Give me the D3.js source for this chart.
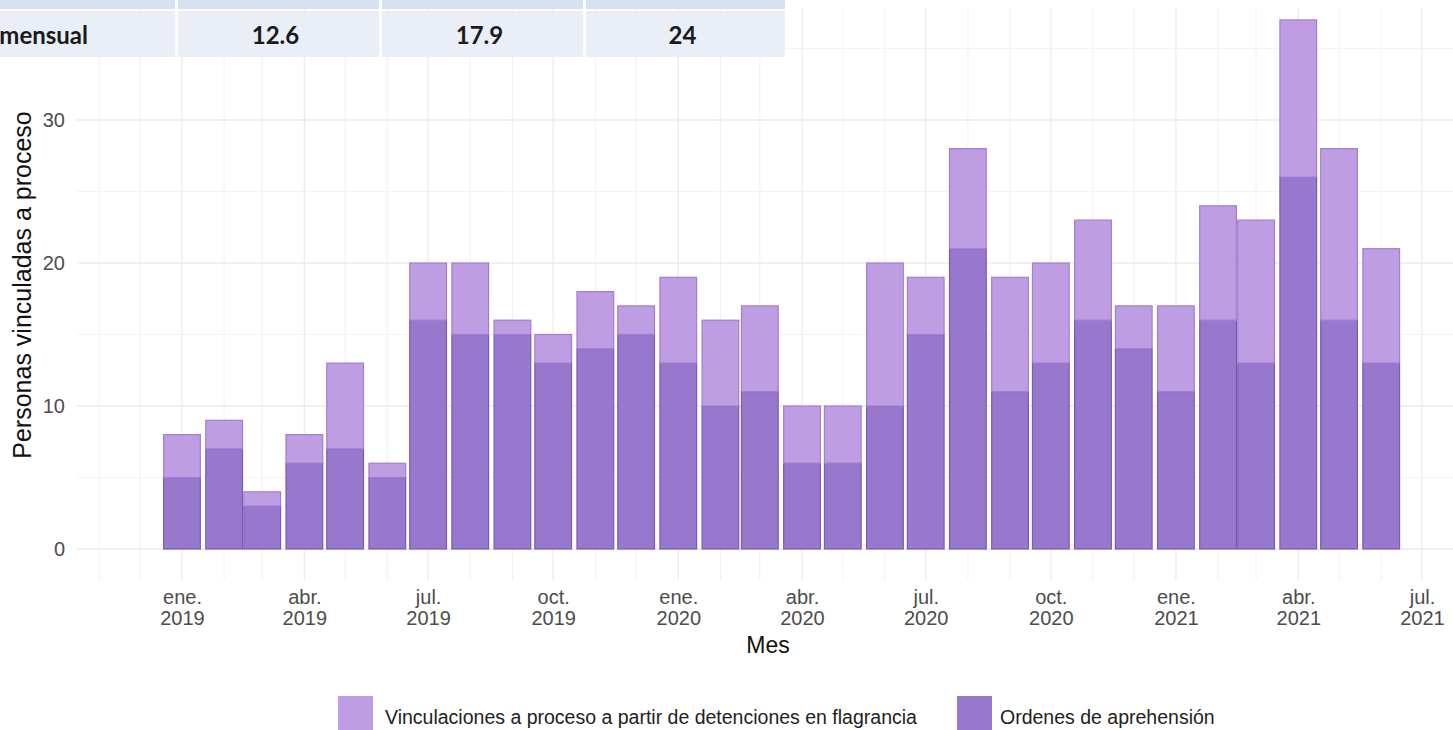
<!DOCTYPE html>
<html>
<head>
<meta charset="utf-8">
<script src="https://cdn.jsdelivr.net/npm/d3@7"></script>
<style>
  html, body { margin: 0; padding: 0; background: #ffffff; }
  svg { display: block; }
</style>
</head>
<body>
<svg id="chart" width="1453" height="730"></svg>
<script>
// ---------- DATA ----------
const months = [
  "2019-01","2019-02","2019-03","2019-04","2019-05","2019-06","2019-07","2019-08","2019-09","2019-10","2019-11","2019-12",
  "2020-01","2020-02","2020-03","2020-04","2020-05","2020-06","2020-07","2020-08","2020-09","2020-10","2020-11","2020-12",
  "2021-01","2021-02","2021-03","2021-04","2021-05","2021-06"
];
const ordenes =    [5,7,3,6,7,5,16,15,15,13,14,15, 13,10,11,6,6,10,15,21,11,13,16,14, 11,16,13,26,16,13];
const flagrancia = [3,2,1,2,6,1,4,5,1,2,4,2, 6,6,6,4,4,10,4,7,8,7,7,3, 6,8,10,11,12,8];
const seriesNames = ["Vinculaciones a proceso a partir de detenciones en flagrancia", "Ordenes de aprehensión"];
const xTickDates = ["2019-01","2019-04","2019-07","2019-10","2020-01","2020-04","2020-07","2020-10","2021-01","2021-04","2021-07"];
const monthAbbr = ["ene.","feb.","mar.","abr.","may.","jun.","jul.","ago.","sep.","oct.","nov.","dic."];
const yTicks = [0,10,20,30];
const yMinor = [5,15,25,35];
const tableRowLabel = "Promedio mensual";
const tableValues = ["12.6","17.9","24"];

// ---------- SETUP ----------
const svg = d3.select("#chart");
const panel = {left: 77, right: 1453, top: 8, bottom: 580};
const parse = d3.timeParse("%Y-%m");
const FONT = "Liberation Sans, Arial, sans-serif";

const x = d3.scaleTime()
  .domain([parse("2019-01"), parse("2021-07")])
  .range([182, 1422]);
const y = d3.scaleLinear().domain([0, 30]).range([549, 120]);

const data = months.map((m, i) => ({date: parse(m), ordenes: ordenes[i], flagrancia: flagrancia[i]}));
const stacked = d3.stack().keys(["ordenes", "flagrancia"])(data);

// ---------- GRID ----------
const grid = svg.append("g");
const allMonths = d3.timeMonth.range(parse("2018-09"), parse("2021-10"));
const xStart = x.invert(panel.left), xEnd = x.invert(panel.right);
const majorSet = new Set(xTickDates);
const fmtYM = d3.timeFormat("%Y-%m");
allMonths.filter(d => d >= xStart && d <= xEnd).forEach(d => {
  const isMajor = majorSet.has(fmtYM(d));
  grid.append("line")
    .attr("x1", x(d)).attr("x2", x(d))
    .attr("y1", panel.top).attr("y2", panel.bottom)
    .attr("stroke", "#ebebeb")
    .attr("stroke-width", isMajor ? 1.3 : 0.8);
});
yMinor.forEach(v => {
  grid.append("line")
    .attr("x1", panel.left).attr("x2", panel.right)
    .attr("y1", y(v)).attr("y2", y(v))
    .attr("stroke", "#f0f0f0").attr("stroke-width", 0.8);
});
yTicks.forEach(v => {
  grid.append("line")
    .attr("x1", panel.left).attr("x2", panel.right)
    .attr("y1", y(v)).attr("y2", y(v))
    .attr("stroke", "#ebebeb").attr("stroke-width", 1.3);
});

// ---------- BARS ----------
const fills = {ordenes: "#9778cd", flagrancia: "#bf9de2"};
const strokes = {ordenes: "#7b59bb", flagrancia: "#a07fd3"};
const halfW = d => (x(d3.timeDay.offset(d, 27)) - x(d)) / 2;

stacked.forEach(layer => {
  svg.append("g").selectAll("rect")
    .data(layer)
    .join("rect")
    .attr("x", d => x(d.data.date) - halfW(d.data.date))
    .attr("width", d => 2 * halfW(d.data.date))
    .attr("y", d => y(d[1]))
    .attr("height", d => y(d[0]) - y(d[1]))
    .attr("fill", fills[layer.key])
    .attr("stroke", strokes[layer.key])
    .attr("stroke-width", 1.2);
});

// ---------- AXES ----------
const yAxis = d3.axisLeft(y).tickValues(yTicks).tickSize(0).tickPadding(0);
const yg = svg.append("g").attr("transform", `translate(65,0)`).call(yAxis);
yg.select(".domain").remove();
yg.selectAll("text")
  .attr("font-family", FONT)
  .attr("font-size", 20).attr("fill", "#4d4d4d");

const xAxis = d3.axisBottom(x).tickValues(xTickDates.map(parse)).tickSize(0).tickFormat("");
const xg = svg.append("g").attr("transform", `translate(0,${panel.bottom})`).call(xAxis);
xg.select(".domain").remove();
xg.selectAll(".tick").each(function(d) {
  const t = d3.select(this).append("text")
    .attr("text-anchor", "middle")
    .attr("font-family", FONT)
    .attr("font-size", 20).attr("fill", "#4d4d4d");
  t.append("tspan").attr("x", 0).attr("y", 24).text(monthAbbr[d.getMonth()]);
  t.append("tspan").attr("x", 0).attr("y", 45).text(d.getFullYear());
});

// axis titles
svg.append("text")
  .attr("x", 768).attr("y", 653)
  .attr("text-anchor", "middle")
  .attr("font-family", FONT)
  .attr("font-size", 23).attr("fill", "#111")
  .text("Mes");
svg.append("text")
  .attr("transform", "translate(31,285) rotate(-90)")
  .attr("text-anchor", "middle")
  .attr("font-family", FONT)
  .attr("font-size", 25).attr("fill", "#111")
  .text("Personas vinculadas a proceso");

// ---------- LEGEND ----------
const legendItems = [
  {key: "flagrancia", name: seriesNames[0], bx: 338, tx: 385},
  {key: "ordenes", name: seriesNames[1], bx: 957, tx: 1000}
];
legendItems.forEach(it => {
  svg.append("rect")
    .attr("x", it.bx).attr("y", 696).attr("width", 35).attr("height", 36)
    .attr("fill", fills[it.key]);
  svg.append("text")
    .attr("x", it.tx).attr("y", 724)
    .attr("font-family", FONT)
    .attr("font-size", 19.5).attr("fill", "#222")
    .text(it.name);
});

// ---------- TABLE OVERLAY ----------
const cols = [[0,175],[178,379],[382,583],[586,785]];
const tbl = svg.append("g");
cols.forEach(c => {
  tbl.append("rect").attr("x", c[0]).attr("y", 0).attr("width", c[1]-c[0]).attr("height", 9)
    .attr("fill", "#d7e1f1");
  tbl.append("rect").attr("x", c[0]).attr("y", 11).attr("width", c[1]-c[0]).attr("height", 46)
    .attr("fill", "#e9eef7");
});
tbl.append("text")
  .attr("x", 88).attr("y", 44)
  .attr("text-anchor", "end")
  .attr("font-family", "Lato, sans-serif").attr("font-weight", 700)
  .attr("font-size", 24).attr("fill", "#1a1a1a")
  .text(tableRowLabel);
tableValues.forEach((v, i) => {
  const c = cols[i+1];
  tbl.append("text")
    .attr("x", (c[0]+c[1])/2 - 3).attr("y", 44)
    .attr("text-anchor", "middle")
    .attr("font-family", "Lato, sans-serif").attr("font-weight", 700)
    .attr("font-size", 24).attr("fill", "#1a1a1a")
    .text(v);
});
</script>
</body>
</html>
